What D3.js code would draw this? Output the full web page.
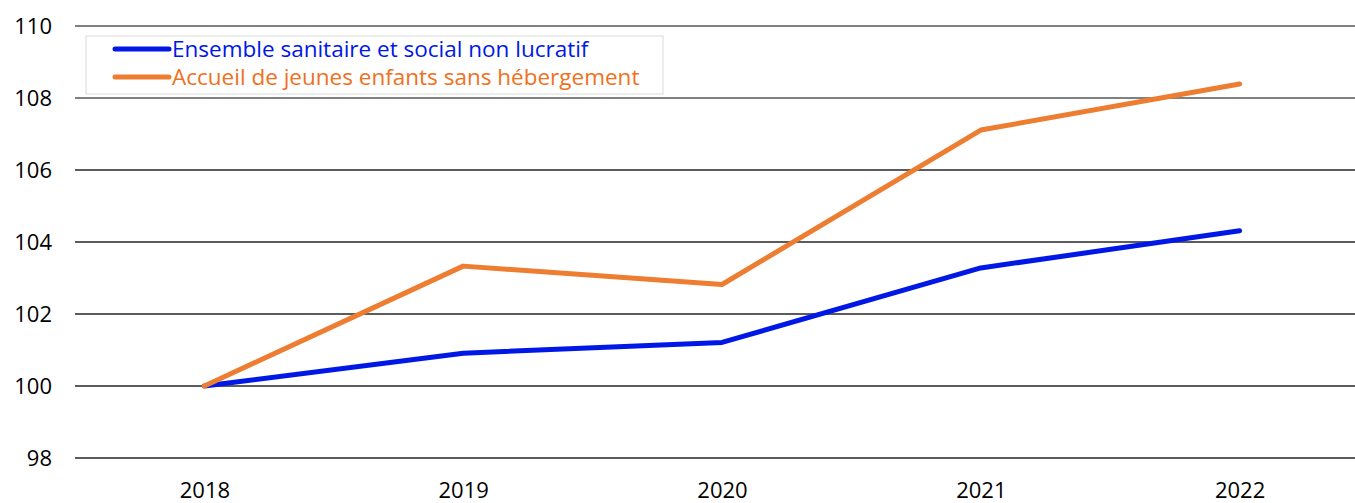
<!DOCTYPE html>
<html lang="fr">
<head>
<meta charset="UTF-8">
<title>Indices 2018-2022</title>
<script src="https://d3js.org/d3.v7.min.js"></script>
<style>
  body { margin: 0; background: #fff; }
  svg text { font-family: "Open Sans", "Noto Sans", sans-serif; }
</style>
</head>
<body>
<svg id="chart" width="1355" height="503"></svg>
<script>
// data
const years = ["2018", "2019", "2020", "2021", "2022"];
const ensemble = [100, 100.91, 101.21, 103.28, 104.31];
const accueil = [100, 103.33, 102.82, 107.11, 108.39];
const yTicks = [98, 100, 102, 104, 106, 108, 110];
const seriesNames = ["Ensemble sanitaire et social non lucratif", "Accueil de jeunes enfants sans hébergement"];
const colors = ["#0018e6", "#ed7d31"];

const svg = d3.select("#chart");
const plotLeft = 75, plotRight = 1369, plotTop = 26, plotBottom = 458;

const x = d3.scalePoint().domain(years).range([plotLeft, plotRight]).padding(0.5);
const y = d3.scaleLinear().domain([98, 110]).range([plotBottom, plotTop]);

// gridlines
svg.append("g")
  .selectAll("line")
  .data(yTicks)
  .join("line")
  .attr("x1", plotLeft).attr("x2", 1355)
  .attr("y1", d => y(d)).attr("y2", d => y(d))
  .attr("stroke", d => d >= 108 ? "#808080" : "#262626")
  .attr("stroke-width", d => d >= 108 ? 2 : 1.5);

// y axis labels
const yAxis = svg.append("g")
  .attr("transform", `translate(${plotLeft},0)`)
  .call(d3.axisLeft(y).tickValues(yTicks).tickSize(0).tickPadding(23));
yAxis.select(".domain").remove();
yAxis.selectAll("text").attr("font-size", 22).attr("fill", "#000");

// x axis labels
const xAxis = svg.append("g")
  .attr("transform", `translate(0,${plotBottom})`)
  .call(d3.axisBottom(x).tickSize(0).tickPadding(24));
xAxis.select(".domain").remove();
xAxis.selectAll("text").attr("font-size", 22).attr("fill", "#000");

// lines
const line = d3.line().x((d, i) => x(years[i])).y(d => y(d));
[ensemble, accueil].forEach((vals, i) => {
  svg.append("path")
    .datum(vals)
    .attr("d", line)
    .attr("fill", "none")
    .attr("stroke", colors[i])
    .attr("stroke-width", 5)
    .attr("stroke-linecap", "round")
    .attr("stroke-linejoin", "round");
});

// legend
const legend = svg.append("g");
legend.append("rect")
  .attr("x", 86).attr("y", 36).attr("width", 577).attr("height", 58)
  .attr("fill", "#fff").attr("stroke", "#d9d9d9").attr("stroke-width", 1);
seriesNames.forEach((name, i) => {
  const ly = 49 + i * 28;
  legend.append("line")
    .attr("x1", 115).attr("x2", 169).attr("y1", ly).attr("y2", ly)
    .attr("stroke", colors[i]).attr("stroke-width", 5).attr("stroke-linecap", "round");
  legend.append("text")
    .attr("x", 172).attr("y", ly + 8)
    .attr("font-size", 22.5)
    .attr("fill", i === 0 ? "#0018e6" : "#f07020")
    .text(name);
});
</script>
</body>
</html>
